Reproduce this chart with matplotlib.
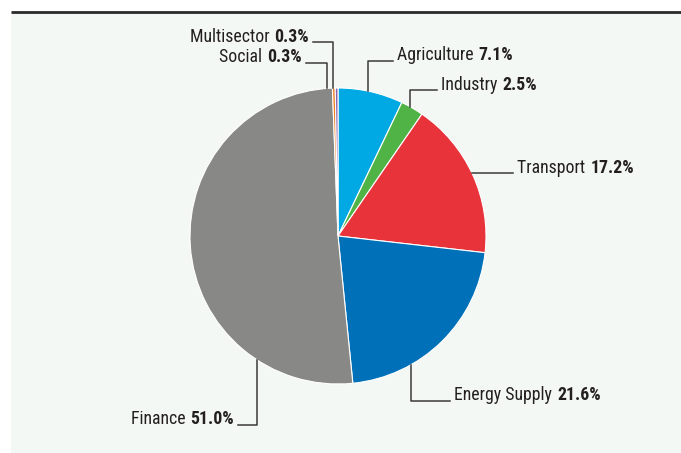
import matplotlib.pyplot as plt
import numpy as np

W, H = 681, 453

sectors = ["Agriculture", "Industry", "Transport", "Energy Supply",
           "Finance", "Social", "Multisector"]
shares = [7.1, 2.5, 17.2, 21.6, 51.0, 0.3, 0.3]
colors = ["#00a9e3", "#4fb346", "#e8333b", "#0070b8",
          "#888886", "#f07d1c", "#8c62ad"]

# pie placement in pixel coords (y measured from the top of the image)
CX, CY, R = 338, 236, 148

# leader layout: (kind, leg coordinate, elbow coordinate, line end, side)
#   "v": vertical leg at x=leg from pie edge to y=elbow, then horizontal to x=end
#   "h": horizontal from pie edge at y=leg to x=end
leaders = {
    "Agriculture":   ("v", 368, 61, 393, "right"),
    "Industry":      ("v", 410, 90, 437, "right"),
    "Transport":     ("h", 172.5, None, 513, "right"),
    "Energy Supply": ("v", 411, 401, 450, "right"),
    "Finance":       ("v", 257, 425, 238, "left"),
    "Social":        ("v", 327, 63, 306, "left"),
    "Multisector":   ("v", 333, 42, 313, "left"),
}

plt.rcParams["font.family"] = ["Roboto Condensed", "DejaVu Sans"]

fig = plt.figure(figsize=(W / 100, H / 100), dpi=100)
ax = fig.add_axes([0, 0, 1, 1])


def fy(y):
    return H - y


# panel and top rule
ax.add_patch(plt.Rectangle((11, 0), W - 11, fy(12), facecolor="#f4f8f5",
                           edgecolor="none", zorder=0))
ax.plot([11, W], [fy(11.5), fy(11.5)], color="#2a2a2a", lw=2, zorder=1,
        solid_capstyle="butt")

ax.pie(shares, colors=colors, startangle=90, counterclock=False,
       center=(CX, fy(CY)), radius=R, frame=True,
       wedgeprops={"edgecolor": "white", "linewidth": 0.8})
ax.set_xlim(0, W)
ax.set_ylim(0, H)
ax.set_aspect("equal")
ax.axis("off")

LINE = "#3a3a3a"
TXT = "#231f20"
FS = 12.8
fig.canvas.draw()
renderer = fig.canvas.get_renderer()
inv = ax.transData.inverted()


def text_width(t):
    bb = t.get_window_extent(renderer)
    (x0, _), (x1, _) = inv.transform([[bb.x0, bb.y0], [bb.x1, bb.y1]])
    return x1 - x0


for name, share in zip(sectors, shares):
    kind, leg, elbow, end, side = leaders[name]
    if kind == "v":
        dx = leg - CX
        dy = np.sqrt(R ** 2 - dx ** 2)
        y0 = CY - dy if elbow < CY else CY + dy
        xs = [leg, leg, end]
        ys = [y0, elbow, elbow]
        ty = elbow - 5.5
    else:
        dy = leg - CY
        x0 = CX + np.sqrt(R ** 2 - dy ** 2)
        xs = [x0, end]
        ys = [leg, leg]
        ty = leg - 4.5
    ax.plot(xs, [fy(v) for v in ys], color=LINE, lw=1.1, zorder=3)

    value = f"{share:.1f}%"
    if side == "right":
        tx = end + 4
        t1 = ax.text(tx, fy(ty), name + " ", ha="left", va="center",
                     fontsize=FS, color=TXT)
        w = text_width(t1)
        ax.text(tx + w + 1, fy(ty), value, ha="left", va="center",
                fontsize=FS, fontweight="bold", color=TXT)
    else:
        tx = end - 4
        t2 = ax.text(tx, fy(ty), value, ha="right", va="center",
                     fontsize=FS, fontweight="bold", color=TXT)
        w = text_width(t2)
        ax.text(tx - w - 1, fy(ty), name + " ", ha="right", va="center",
                fontsize=FS, color=TXT)

fig.savefig("out.png", dpi=100)
